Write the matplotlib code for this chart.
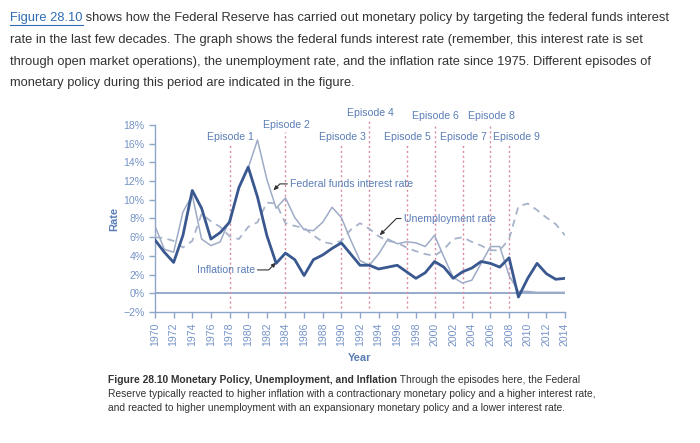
import matplotlib
matplotlib.use("Agg")
from matplotlib import pyplot as plt
from matplotlib.lines import Line2D

#----------------DATA----------------
years = list(range(1970, 2015))

fed_funds = [7.2, 4.7, 4.4, 8.7, 10.5, 5.8, 5.1, 5.5, 7.9, 11.2,
             13.4, 16.4, 12.2, 9.1, 10.2, 8.1, 6.8, 6.7, 7.6, 9.2,
             8.1, 5.7, 3.5, 3.0, 4.2, 5.8, 5.3, 5.5, 5.4, 5.0,
             6.2, 3.9, 1.7, 1.1, 1.4, 3.2, 5.0, 5.0, 1.9, 0.2,
             0.2, 0.1, 0.1, 0.1, 0.1]

unemployment = [6.0, 5.9, 5.6, 4.9, 5.6, 8.5, 7.7, 7.1, 6.1, 5.8,
                7.1, 7.6, 9.7, 9.6, 7.5, 7.2, 7.0, 6.2, 5.5, 5.3,
                5.6, 6.8, 7.5, 6.9, 6.1, 5.6, 5.4, 4.9, 4.5, 4.2,
                4.0, 4.7, 5.8, 6.0, 5.5, 5.1, 4.6, 4.6, 5.8, 9.3,
                9.6, 8.9, 8.1, 7.4, 6.2]

inflation = [5.7, 4.4, 3.3, 6.2, 11.0, 9.1, 5.8, 6.5, 7.6, 11.3,
             13.5, 10.3, 6.2, 3.2, 4.3, 3.6, 1.9, 3.6, 4.1, 4.8,
             5.4, 4.2, 3.0, 3.0, 2.6, 2.8, 3.0, 2.3, 1.6, 2.2,
             3.4, 2.8, 1.6, 2.3, 2.7, 3.4, 3.2, 2.8, 3.8, -0.4,
             1.6, 3.2, 2.1, 1.5, 1.6]

episode_years = [1978, 1984, 1990, 1993, 1997, 2000, 2003, 2006, 2008]
episode_names = ["Episode %d" % i for i in range(1, 10)]
episode_label_y = [16.75, 18.0, 16.75, 19.25, 16.75, 18.95, 16.75, 18.95, 16.75]

y_ticks = list(range(-2, 19, 2))
y_tick_labels = [("\u2212%d%%" % -v) if v < 0 else "%d%%" % v for v in y_ticks]
x_ticks = list(range(1970, 2015, 2))

#----------------COLOURS----------------
BLUE_TEXT = "#5a7db6"
TICK_BLUE = "#7593c7"
AXIS_BLUE = "#8ea4c9"
DARK_LINE = "#3a5890"
LIGHT_LINE = "#9eabc6"
DASH_LINE = "#a7b3cb"
EPISODE = "#d98a9e"

plt.rcParams["font.family"] = ["Liberation Sans", "DejaVu Sans"]

fig = plt.figure(figsize=(7, 4.43), dpi=100)
W, H = 700, 443
ax = fig.add_axes([155 / W, 1 - 312 / H, 410 / W, 187 / H])

#----------------LINES----------------
ax.axhline(0, color=AXIS_BLUE, lw=1.3, zorder=1)
ax.plot(years, fed_funds, color=LIGHT_LINE, lw=1.1, zorder=3)
ax.plot(years, unemployment, color=DASH_LINE, lw=1.3, dashes=(4, 3), zorder=3)
ax.plot(years, inflation, color=DARK_LINE, lw=2.0, zorder=4)

#----------------EPISODES----------------
for yr, name, ly in zip(episode_years, episode_names, episode_label_y):
    ax.plot([yr, yr], [-1.6, ly - 0.8], color=EPISODE, lw=1.0,
            linestyle=(0, (1.5, 2)), clip_on=False, zorder=2)
    dx = 0.8 if name == "Episode 9" else 0.1
    ax.text(yr + dx, ly, name, ha="center", va="center", fontsize=7.6,
            color=BLUE_TEXT, clip_on=False)

#----------------LINE LABELS----------------
arrow = dict(arrowstyle="-|>,head_length=0.35,head_width=0.15", color="#333333",
             lw=0.8, shrinkA=0, shrinkB=0,
             connectionstyle="angle,angleA=0,angleB=45,rad=0")
ax.annotate("Federal funds interest rate", xy=(1982.7, 11.0), xytext=(1984.5, 11.7),
            fontsize=7.6, color=BLUE_TEXT, va="center", ha="left",
            arrowprops=dict(arrow, relpos=(0, 0.5)))
ax.annotate("Unemployment rate", xy=(1994.1, 6.2), xytext=(1996.7, 8.0),
            fontsize=7.6, color=BLUE_TEXT, va="center", ha="left",
            arrowprops=dict(arrow, relpos=(0, 0.5)))
ax.annotate("Inflation rate", xy=(1983.0, 3.3), xytext=(1980.7, 2.5),
            fontsize=7.6, color=BLUE_TEXT, va="center", ha="right",
            arrowprops=dict(arrow, relpos=(1, 0.5)))

#----------------AXES----------------
ax.set_xlim(1970, 2014)
ax.set_ylim(-2, 18)
ax.set_yticks(y_ticks)
ax.set_yticklabels(y_tick_labels)
ax.set_xticks(x_ticks)
ax.set_xticklabels([str(x) for x in x_ticks], rotation=90)
for side in ["top", "right"]:
    ax.spines[side].set_visible(False)
for side in ["left", "bottom"]:
    ax.spines[side].set_color(AXIS_BLUE)
    ax.spines[side].set_linewidth(1.0)
ax.tick_params(colors=AXIS_BLUE, labelcolor=TICK_BLUE, labelsize=7.6, length=4, width=1.0)
ax.set_xlabel("Year", fontsize=8, fontweight="bold", color=BLUE_TEXT, labelpad=5)
ax.set_ylabel("Rate", fontsize=8, fontweight="bold", color=BLUE_TEXT, labelpad=3)

#----------------TEXT ABOVE AND BELOW----------------
renderer = fig.canvas.get_renderer()


def text_line(x_px, y_px, parts, size):
    # parts: list of (text, weight, color); placed one after another
    for txt, weight, color in parts:
        t = fig.text(x_px / W, 1 - y_px / H, txt, fontsize=size, fontweight=weight,
                     color=color, va="center", ha="left")
        box = t.get_window_extent(renderer)
        if txt.startswith("Figure") and weight == "normal":
            fig.add_artist(Line2D([box.x0 / W, box.x1 / W],
                                  [(box.y0 - 0.5) / H, (box.y0 - 0.5) / H],
                                  color=color, lw=0.8))
        x_px = box.x1


LINK = "#2f6db3"
GREY = "#333333"
para_size = 9.3
text_line(10, 18, [("Figure 28.10", "normal", LINK),
                   (" shows how the Federal Reserve has carried out monetary policy by targeting the federal funds interest", "normal", GREY)], para_size)
text_line(10, 40, [("rate in the last few decades. The graph shows the federal funds interest rate (remember, this interest rate is set", "normal", GREY)], para_size)
text_line(10, 62, [("through open market operations), the unemployment rate, and the inflation rate since 1975. Different episodes of", "normal", GREY)], para_size)
text_line(10, 83, [("monetary policy during this period are indicated in the figure.", "normal", GREY)], para_size)

cap_size = 7.4
text_line(108, 380, [("Figure 28.10 Monetary Policy, Unemployment, and Inflation", "bold", GREY),
                     (" Through the episodes here, the Federal", "normal", GREY)], cap_size)
text_line(108, 394, [("Reserve typically reacted to higher inflation with a contractionary monetary policy and a higher interest rate,", "normal", GREY)], cap_size)
text_line(108, 408, [("and reacted to higher unemployment with an expansionary monetary policy and a lower interest rate.", "normal", GREY)], cap_size)

fig.savefig("out.png", dpi=100)
